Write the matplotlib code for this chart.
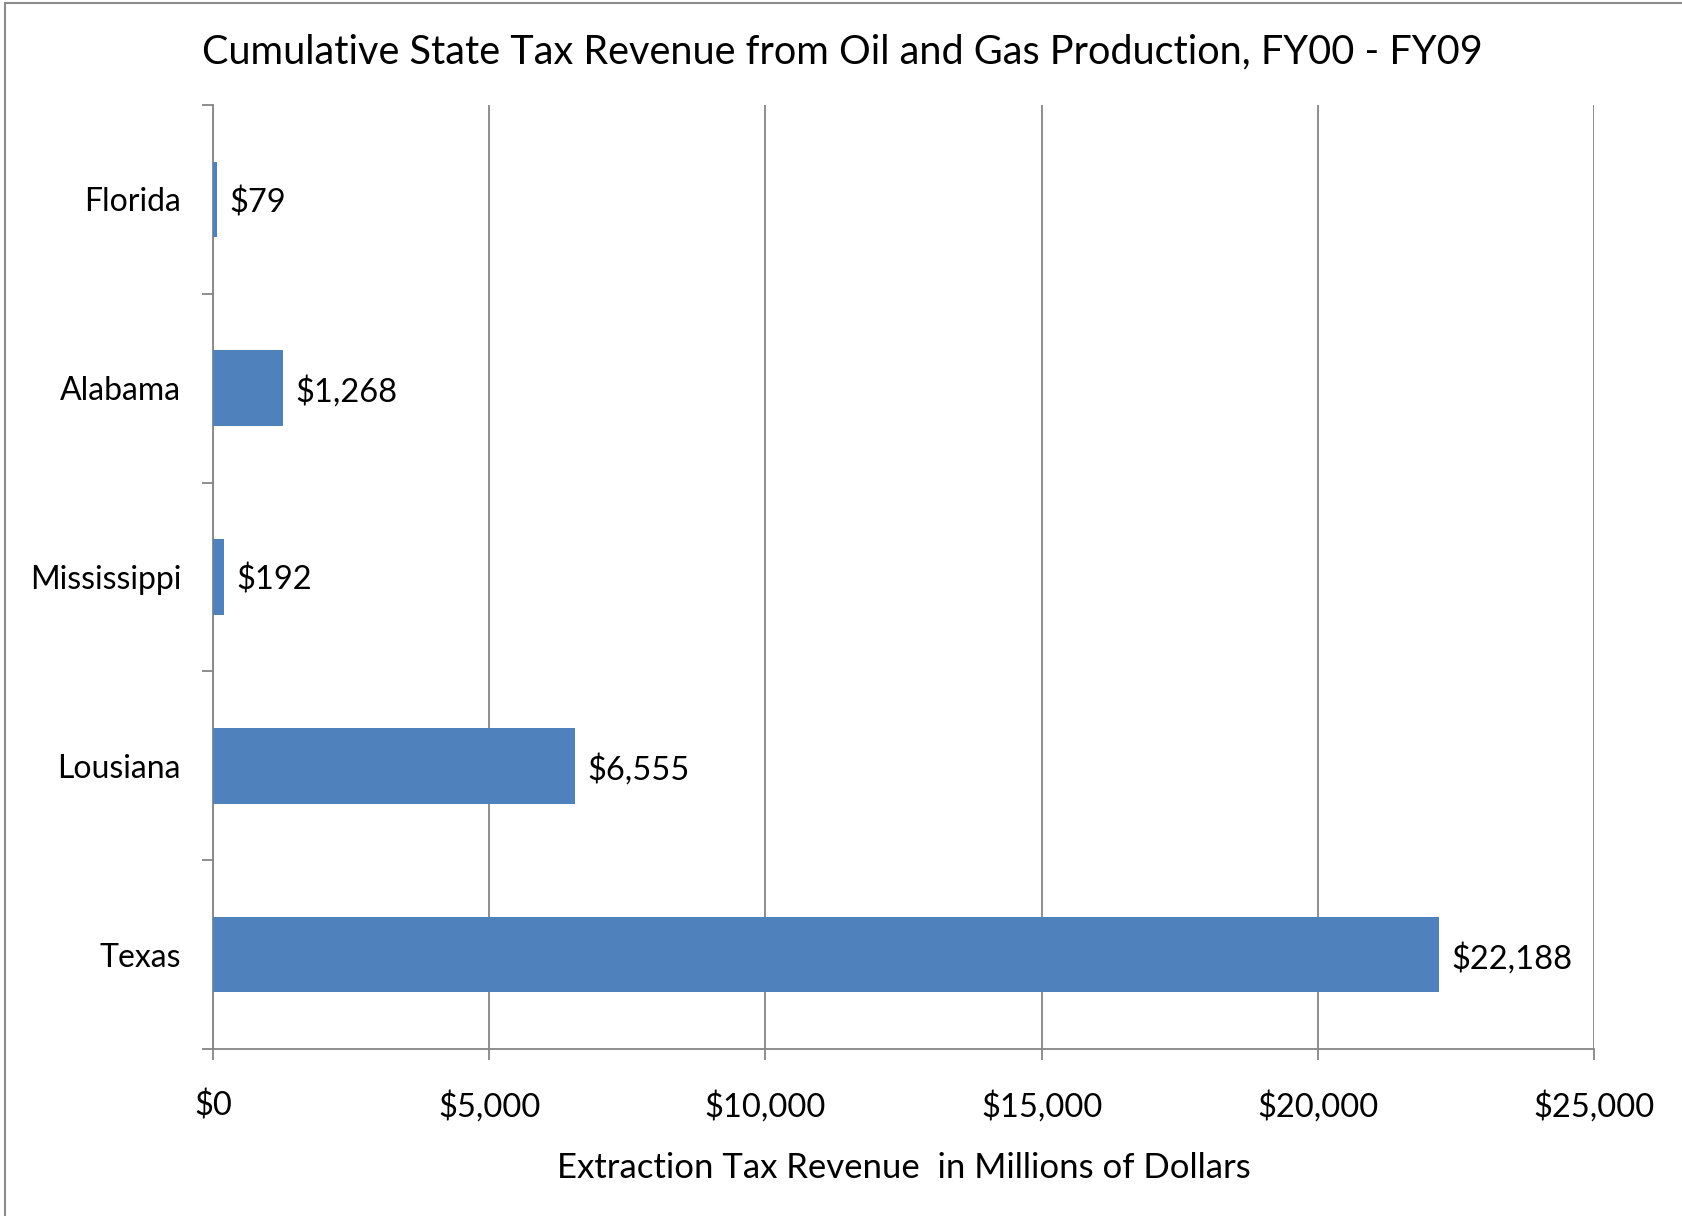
import matplotlib
matplotlib.use("Agg")
import matplotlib.pyplot as plt
from matplotlib.patches import Rectangle
import numpy as np

states = ["Florida", "Alabama", "Mississippi", "Lousiana", "Texas"]
revenue = [79, 1268, 192, 6555, 22188]
xticks = [0, 5000, 10000, 15000, 20000, 25000]
xtick_labels = ["$0", "$5,000", "$10,000", "$15,000", "$20,000", "$25,000"]
value_labels = ["$79", "$1,268", "$192", "$6,555", "$22,188"]

plt.rcParams['font.family'] = ['Lato', 'DejaVu Sans']

W, H = 1682, 1216
fig = plt.figure(figsize=(W/100, H/100), dpi=100)

# outer chart frame
fig.patches.append(Rectangle((5/W, -0.1), 2.0, (H-3)/H + 0.1, transform=fig.transFigure,
                             fill=False, edgecolor='#8c8c8c', linewidth=1.5))

left, right, top, bottom = 213, 1594, 105, 1049
ax = fig.add_axes([left/W, 1-bottom/H, (right-left)/W, (bottom-top)/H])

n = len(states)
ypos = np.arange(n)[::-1]
ax.barh(ypos, revenue, height=0.4, color='#4F81BD', zorder=3)
for y, v, lab in zip(ypos, revenue, value_labels):
    ax.annotate(lab, (v, y), xytext=(9, -2.5), textcoords='offset points',
                va='center', ha='left', fontsize=23.5)

ax.set_xlim(0, 25000)
ax.set_ylim(-0.5, n-0.5)
ax.set_xticks(xticks)
ax.set_xticklabels(xtick_labels, fontsize=23.5)
ax.set_yticks(ypos)
ax.set_yticklabels(states, fontsize=23)
ax.set_yticks(np.arange(-0.5, n, 1.0), minor=True)
ax.tick_params(axis='y', which='major', length=0, pad=23)
ax.tick_params(axis='y', which='minor', length=8, color='#868686', width=1.3)
ax.tick_params(axis='x', which='major', length=8, color='#868686', width=1.3, pad=22)
ax.grid(axis='x', color='#868686', linewidth=1.3, zorder=0)
for s in ['top', 'right']:
    ax.spines[s].set_visible(False)
for s in ['left', 'bottom']:
    ax.spines[s].set_color('#868686')
    ax.spines[s].set_linewidth(1.3)

ax.set_xlabel("Extraction Tax Revenue  in Millions of Dollars", fontsize=25, labelpad=21)
fig.text(842/W, 1-52/H, "Cumulative State Tax Revenue from Oil and Gas Production, FY00 - FY09",
         ha='center', va='center', fontsize=28.5)

fig.savefig("out.png", dpi=100)
